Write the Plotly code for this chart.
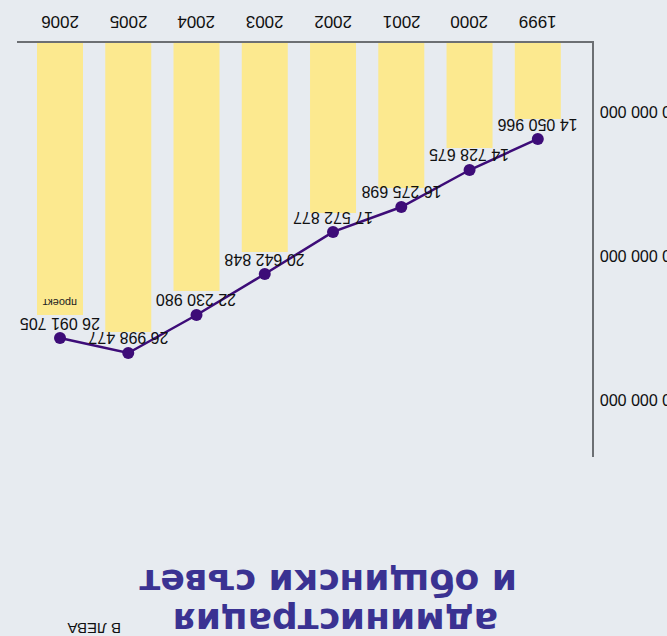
import plotly.graph_objects as go

# ---- data ----
years = ["1999", "2000", "2001", "2002", "2003", "2004", "2005", "2006"]
bar_values = [10.56e6, 12.57e6, 15.35e6, 17.08e6, 19.79e6, 22.50e6, 25.35e6, 24.17e6]
line_values = [11.94e6, 14.10e6, 16.67e6, 18.40e6, 21.32e6, 24.17e6, 26.81e6, 25.76e6]
line_labels = ["14 050 966", "14 728 675", "16 275 698", "17 572 877",
               "20 642 848", "22 230 980", "26 998 477", "26 091 705"]
y_tickvals = [10e6, 20e6, 30e6]
y_ticktext = ["10 000 000", "20 000 000", "30 000 000"]
title_line1 = "администрация"
title_line2 = "и общински съвет"
unit_text = "В ЛЕВА"
project_note = "проект"

W, H = 667, 636
M = dict(l=17, r=75, t=43, b=179)
BG = "#e7ebf0"
BAR = "#fce98f"
LINE = "#3d0c78"
TITLE = "#3a3292"
FONT = "Liberation Sans, Arial, sans-serif"

def px2paper(px, py):
    pw = W - M["l"] - M["r"]
    ph = H - M["t"] - M["b"]
    return (px - M["l"]) / pw, (H - M["b"] - py) / ph

fig = go.Figure()
fig.add_trace(go.Bar(x=years, y=bar_values, marker_color=BAR, marker_line_width=0,
                     hoverinfo="skip"))
fig.add_trace(go.Scatter(x=years, y=line_values, mode="lines+markers",
                         line=dict(color=LINE, width=2.5),
                         marker=dict(color=LINE, size=12)))

ann = []
for i, (v, t) in enumerate(zip(line_values, line_labels)):
    ann.append(dict(x=i, y=v, xref="x", yref="y", text=t, showarrow=False,
                    textangle=180, yshift=15,
                    font=dict(family=FONT, size=16, color="#111111")))
ann.append(dict(x=len(years) - 1, y=bar_values[-1], xref="x", yref="y", text=project_note,
                showarrow=False, textangle=180, yshift=12,
                font=dict(family=FONT, size=11, color="#222222")))

# x tick labels (upside-down, above the axis)
_, yl = px2paper(0, 22)
for i, yr in enumerate(years):
    ann.append(dict(x=i, y=yl, xref="x", yref="paper", text=yr, showarrow=False,
                    textangle=180, xanchor="center", yanchor="middle",
                    font=dict(family=FONT, size=17, color="#111111")))

# y tick labels (upside-down, to the right of the axis)
xt, _ = px2paper(598, 0)
for v, t in zip(y_tickvals, y_ticktext):
    ann.append(dict(x=xt, y=v, xref="paper", yref="y", text=t, showarrow=False,
                    textangle=180, xanchor="left", yanchor="middle",
                    font=dict(family=FONT, size=16, color="#111111")))

x2, y2 = px2paper(328, 583)
ann.append(dict(x=x2, y=y2, xref="paper", yref="paper", text="<b>" + title_line2 + "</b>",
                showarrow=False, textangle=180, xanchor="center", yanchor="middle",
                font=dict(family="DejaVu Sans", size=36, color=TITLE)))
x1, y1 = px2paper(336, 622)
ann.append(dict(x=x1, y=y1, xref="paper", yref="paper", text="<b>" + title_line1 + "</b>",
                showarrow=False, textangle=180, xanchor="center", yanchor="middle",
                font=dict(family="DejaVu Sans", size=36, color=TITLE)))
xu, yu = px2paper(94, 629)
ann.append(dict(x=xu, y=yu, xref="paper", yref="paper", text=unit_text,
                showarrow=False, textangle=180, xanchor="center", yanchor="middle",
                font=dict(family=FONT, size=15, color="#111111")))

fig.update_layout(
    width=W, height=H, margin=M,
    paper_bgcolor=BG, plot_bgcolor=BG,
    showlegend=False, bargap=0.326,
    annotations=ann,
    xaxis=dict(type="category", categoryorder="array", categoryarray=years,
               range=[7.63, -0.794], side="top", showline=True, linecolor="#6c6f73",
               linewidth=2, showgrid=False, ticks="", showticklabels=False,
               automargin=False, zeroline=False),
    yaxis=dict(range=[34.03e6, 5.28e6], side="right", showline=True, linecolor="#6c6f73",
               linewidth=2, showgrid=False, zeroline=False, ticks="",
               showticklabels=False, automargin=False),
)
fig.write_html("out.html", config={"displayModeBar": False},
               post_script="document.body.style.margin='0';"
                           "document.body.style.background='" + BG + "';"
                           "document.body.style.overflow='hidden';")
